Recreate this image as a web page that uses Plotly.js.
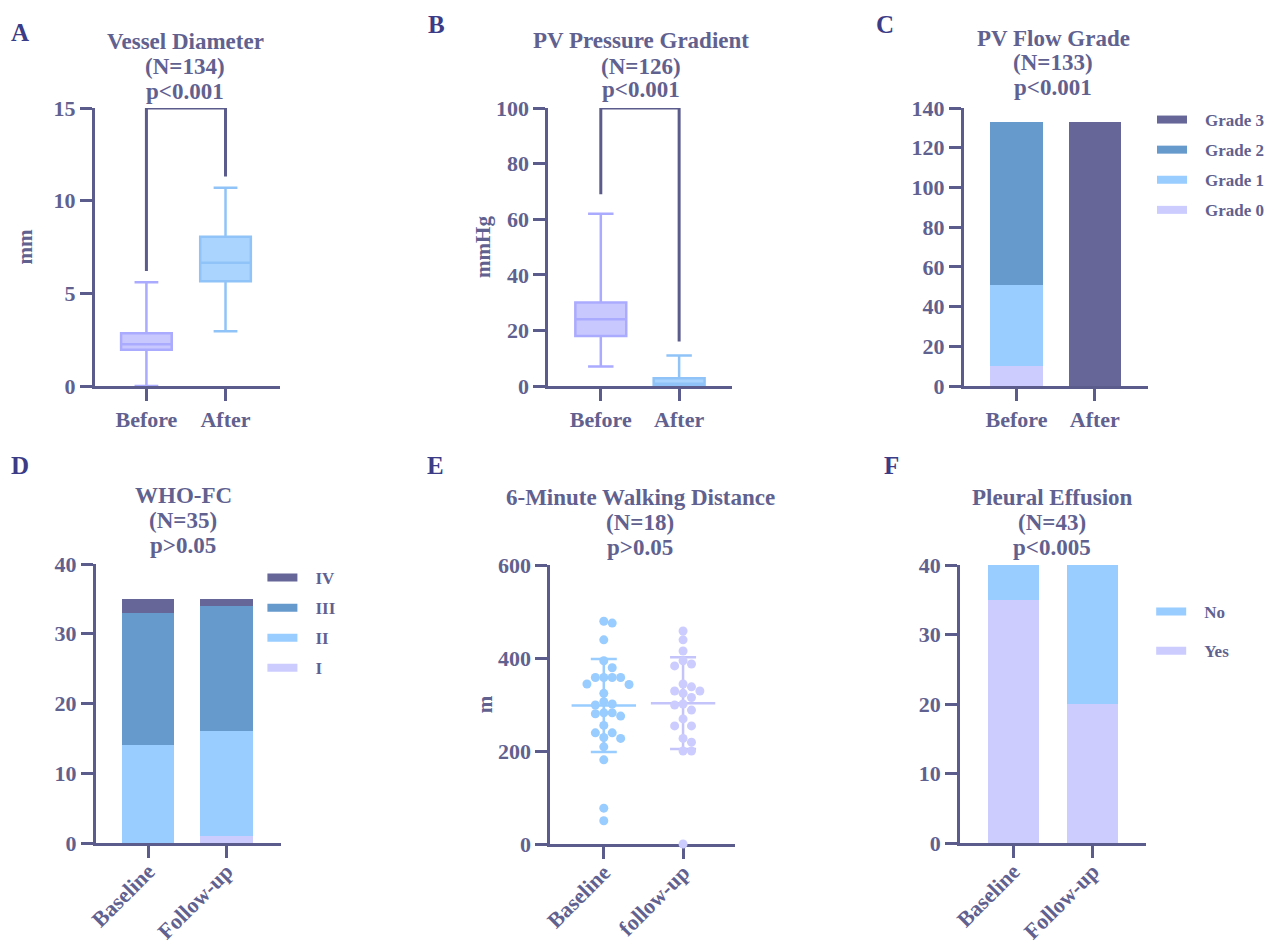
<!DOCTYPE html>
<html>
<head>
<meta charset="utf-8">
<script src="https://cdn.plot.ly/plotly-3.0.1.min.js"></script>
<style>html,body{margin:0;padding:0;background:#fff;}#chart{width:1266px;height:944px;}</style>
</head>
<body>
<div id="chart"></div>
<script>
// ---------------- DATA ----------------
const prePost = ['Before', 'After'];
// A: Vessel Diameter (mm) box statistics
const vdQ1 = [1.95, 5.65];
const vdMedian = [2.25, 6.65];
const vdQ3 = [2.85, 8.05];
const vdLow = [0, 2.95];
const vdHigh = [5.6, 10.7];
const vdBracketEnds = [6.2, 11.3];
const vdMax = 15;
// B: PV Pressure Gradient (mmHg) box statistics
const pgQ1 = [18, 0];
const pgMedian = [24, 0.8];
const pgQ3 = [30, 2.8];
const pgLow = [7, 0];
const pgHigh = [62, 11];
const pgBracketEnds = [69, 16];
const pgMax = 100;
// C: PV Flow Grade (counts)
const flowGrades = ['Grade 0', 'Grade 1', 'Grade 2', 'Grade 3'];
const flowBefore = [10, 41, 82, 0];
const flowAfter = [0, 0, 0, 133];
// D: WHO-FC (counts)
const timePoints = ['Baseline', 'Follow-up'];
const whoClasses = ['I', 'II', 'III', 'IV'];
const whoBaseline = [0, 14, 19, 2];
const whoFollowup = [1, 15, 18, 1];
// E: 6-minute walking distance (m)
const walkGroups = ['Baseline', 'follow-up'];
const walkBaseline = [475, 479, 439, 394, 379, 358, 358, 358, 358, 343, 344, 324, 306, 299, 301,
  282, 275, 280, 282, 255, 239, 239, 227, 229, 209, 181, 77, 50];
const walkFollowup = [458, 439, 415, 394, 383, 387, 344, 338, 329, 329, 324, 315, 301, 299, 288,
  269, 254, 254, 227, 219, 200, 200, 0];
// F: Pleural effusion (counts)
const effusionCats = ['Yes', 'No'];
const effusionBaseline = [35, 5];
const effusionFollowup = [20, 20];

// ---------------- STYLE ----------------
const W = 1266, H = 944;
const FONT = 'Liberation Serif, DejaVu Serif, serif';
const TXT = '#61618f';
const AX = '#5b5b8c';
const LETTER = '#3c3c86';
const C0 = '#ccccff', C1 = '#99ccff', C2 = '#6699cc', C3 = '#666699';
const gradeColors = [C0, C1, C2, C3];
const px = x => x / W;
const py = y => 1 - y / H;

function axisX(n, dom, range, extra) {
  return Object.assign({
    anchor: 'y' + n, domain: [px(dom[0]), px(dom[1])], range: range, showgrid: false, zeroline: false,
    showline: true, linecolor: AX, linewidth: 3, ticks: 'outside', ticklen: 12, tickwidth: 3,
    tickcolor: AX, tickfont: {family: FONT, size: 22, color: TXT, weight: 700},
    fixedrange: true
  }, extra || {});
}
function axisY(n, dom, range, dtick, extra) {
  return Object.assign({
    anchor: 'x' + n, domain: [py(dom[1]), py(dom[0])], range: range, dtick: dtick, showgrid: false, zeroline: false,
    showline: true, linecolor: AX, linewidth: 3, ticks: 'outside', ticklen: 12, tickwidth: 3,
    tickcolor: AX, tickfont: {family: FONT, size: 22, color: TXT, weight: 700},
    fixedrange: true
  }, extra || {});
}
function ytitle(t, standoff) {
  return {text: t, standoff: standoff, font: {family: FONT, size: 21, color: TXT, weight: 700}};
}

const traces = [];

// A boxes
const boxLine = ['#aaaaff', '#90c4f8'];
const boxFill = ['#c8c8ff', '#aad3fd'];
prePost.forEach((g, i) => {
  traces.push({type: 'box', xaxis: 'x', yaxis: 'y', x: [g], q1: [vdQ1[i]], median: [vdMedian[i]],
    q3: [vdQ3[i]], lowerfence: [vdLow[i]], upperfence: [vdHigh[i]], boxpoints: false,
    width: 0.64, whiskerwidth: 0.47, line: {color: boxLine[i], width: 2.5}, fillcolor: boxFill[i],
    showlegend: false, name: g});
});
traces.push({type: 'scatter', mode: 'lines', xaxis: 'x', yaxis: 'y', cliponaxis: false,
  x: [prePost[0], prePost[0], prePost[1], prePost[1]],
  y: [vdBracketEnds[0], vdMax, vdMax, vdBracketEnds[1]],
  line: {color: AX, width: 3}, showlegend: false, hoverinfo: 'skip'});

// B boxes
prePost.forEach((g, i) => {
  traces.push({type: 'box', xaxis: 'x2', yaxis: 'y2', x: [g], q1: [pgQ1[i]], median: [pgMedian[i]],
    q3: [pgQ3[i]], lowerfence: [pgLow[i]], upperfence: [pgHigh[i]], boxpoints: false,
    width: 0.65, whiskerwidth: 0.5, line: {color: boxLine[i], width: 2.5}, fillcolor: boxFill[i],
    showlegend: false, name: g});
});
traces.push({type: 'scatter', mode: 'lines', xaxis: 'x2', yaxis: 'y2', cliponaxis: false,
  x: [prePost[0], prePost[0], prePost[1], prePost[1]],
  y: [pgBracketEnds[0], pgMax, pgMax, pgBracketEnds[1]],
  line: {color: AX, width: 3}, showlegend: false, hoverinfo: 'skip'});

// C stacked bars
flowGrades.forEach((g, i) => {
  traces.push({type: 'bar', xaxis: 'x3', yaxis: 'y3', x: prePost, y: [flowBefore[i], flowAfter[i]],
    name: g, marker: {color: gradeColors[i], line: {width: 0}}, width: 0.67,
    legend: 'legend', legendgroup: 'c' + i, legendrank: 100 - i});
});

// D stacked bars
whoClasses.forEach((g, i) => {
  traces.push({type: 'bar', xaxis: 'x4', yaxis: 'y4', x: timePoints, y: [whoBaseline[i], whoFollowup[i]],
    name: g, marker: {color: gradeColors[i], line: {width: 0}}, width: 0.67,
    legend: 'legend2', legendgroup: 'd' + i, legendrank: 100 - i});
});

// E scatter dot plot with mean +/- SD
const E_PX_PER_X = 80, E_PX_PER_Y = 279 / 600, DOT = 9, ROW_H = 8, COL_W = 8.5;
function swarm(values, center) {
  const placed = [];
  const xs = new Array(values.length);
  const order = values.map((v, i) => i).sort((a, b) => values[b] - values[a]);
  for (const i of order) {
    const yp = values[i] * E_PX_PER_Y;
    let best = 0;
    for (let k = 0; k < 60; k++) {
      const off = (k % 2 === 1 ? 1 : -1) * Math.ceil(k / 2) * (COL_W / 2) * (k === 0 ? 0 : 1);
      const ok = placed.every(p => !(Math.abs(p.x - off) < COL_W - 0.01 && Math.abs(p.y - yp) < ROW_H));
      if (ok) { best = off; break; }
    }
    placed.push({x: best, y: yp});
    xs[i] = center + best / E_PX_PER_X;
  }
  return xs;
}
function mean(a) { return a.reduce((s, v) => s + v, 0) / a.length; }
function sd(a) { const m = mean(a); return Math.sqrt(a.reduce((s, v) => s + (v - m) ** 2, 0) / (a.length - 1)); }
const walkSets = [walkBaseline, walkFollowup];
const walkColors = ['#99ccff', '#ccccff'];
const walkLineColors = ['#99ccff', '#c4c4fb'];
walkSets.forEach((vals, i) => {
  traces.push({type: 'scatter', mode: 'markers', xaxis: 'x5', yaxis: 'y5', x: [i], y: [mean(vals)],
    marker: {symbol: 'line-ew', size: 46, line: {width: 2.5, color: walkLineColors[i]}},
    error_y: {type: 'data', array: [sd(vals)], visible: true, width: 13, thickness: 2.5, color: walkLineColors[i]},
    showlegend: false, hoverinfo: 'skip'});
});
walkSets.forEach((vals, i) => {
  traces.push({type: 'scatter', mode: 'markers', xaxis: 'x5', yaxis: 'y5', cliponaxis: false,
    x: swarm(vals, i), y: vals, name: walkGroups[i],
    marker: {size: DOT, color: walkColors[i]}, showlegend: false});
});

// F stacked bars
const effColors = [C0, C1];
effusionCats.forEach((g, i) => {
  traces.push({type: 'bar', xaxis: 'x6', yaxis: 'y6', x: timePoints, y: [effusionBaseline[i], effusionFollowup[i]],
    name: g, marker: {color: effColors[i], line: {width: 0}}, width: 0.65,
    legend: 'legend3', legendgroup: 'f' + i, legendrank: 100 - i});
});

// ---------------- ANNOTATIONS ----------------
const ann = [];
function titleBlock(xc, ys, lines) {
  lines.forEach((t, i) => ann.push({xref: 'paper', yref: 'paper', x: px(xc), y: py(ys[i]),
    xanchor: 'center', yanchor: 'middle', showarrow: false, text: t,
    font: {family: FONT, size: 23, color: TXT, weight: 700}}));
}
titleBlock(187, [42, 67, 92], ['Vessel Diameter', '(N=134)', 'p&lt;0.001']);
titleBlock(648, [40, 66, 90], ['PV Pressure Gradient', '(N=126)', 'p&lt;0.001']);
titleBlock(1064, [38, 63, 88], ['PV Flow Grade', '(N=133)', 'p&lt;0.001']);
titleBlock(185, [495, 520, 545], ['WHO-FC', '(N=35)', 'p&gt;0.05']);
titleBlock(647, [497, 522, 547], ['6-Minute Walking Distance', '(N=18)', 'p&gt;0.05']);
titleBlock(1063, [497, 522, 547], ['Pleural Effusion', '(N=43)', 'p&lt;0.005']);
[['A', 20, 33], ['B', 441, 24], ['C', 894, 24], ['D', 20, 465], ['E', 440, 465], ['F', 901, 465]]
  .forEach(([t, x, y]) => ann.push({xref: 'paper', yref: 'paper', x: px(x), y: py(y), xanchor: 'center',
    yanchor: 'middle', showarrow: false, text: t, font: {family: FONT, size: 25, color: LETTER, weight: 700}}));

function legendCfg(left, top, gap) {
  return {x: px(left), y: py(top), xanchor: 'left', yanchor: 'top', bgcolor: 'rgba(0,0,0,0)',
    itemwidth: 56, traceorder: 'grouped', tracegroupgap: gap, itemclick: false, itemdoubleclick: false,
    font: {family: FONT, size: 17, color: TXT, weight: 700}};
}

const rotX = {tickangle: -45, ticklabelstandoff: -8};
const layout = {
  width: W, height: H, margin: {l: 0, r: 0, t: 0, b: 0}, paper_bgcolor: '#fff', plot_bgcolor: '#fff',
  barmode: 'stack', boxmode: 'overlay', hovermode: false, showlegend: true,
  font: {family: FONT, color: TXT},
  xaxis: axisX('', [96, 283], [-0.65, 1.69], {type: 'category'}),
  yaxis: axisY('', [108, 386], [0, 15], 5, {title: ytitle('mm', 16)}),
  xaxis2: axisX(2, [554, 740], [-0.67, 1.68], {type: 'category'}),
  yaxis2: axisY(2, [108, 386], [0, 100], 20, {title: ytitle('mmHg', 0)}),
  xaxis3: axisX(3, [974, 1160], [-0.67, 1.68], {type: 'category'}),
  yaxis3: axisY(3, [108, 386], [0, 140], 20),
  xaxis4: axisX(4, [97, 284], [-0.67, 1.70], Object.assign({type: 'category'}, rotX)),
  yaxis4: axisY(4, [564, 843], [0, 40], 10),
  xaxis5: axisX(5, [556, 743], [-0.675, 1.66], Object.assign({type: 'linear', tickvals: [0, 1],
    ticktext: walkGroups, layer: 'below traces'}, rotX)),
  yaxis5: axisY(5, [565, 844], [0, 600], 200, {title: ytitle('m', 0)}),
  xaxis6: axisX(6, [970, 1158], [-0.675, 1.675], Object.assign({type: 'category'}, rotX)),
  yaxis6: axisY(6, [565, 843], [0, 40], 10),
  legend: legendCfg(1147, 102, 5),
  legend2: legendCfg(252, 560, 5),
  legend3: legendCfg(1150, 594, 14),
  annotations: ann
};

Plotly.newPlot('chart', traces, layout, {displayModeBar: false, staticPlot: true}).then(() => {
  document.querySelectorAll('g.legendpoints path').forEach(p => {
    const d = p.getAttribute('d') || '';
    if (d.indexOf('M6,6H-6V-6H6Z') === 0) p.setAttribute('d', 'M15,4H-15V-4H15Z');
  });
  // nudge the first (panel C) legend, which Plotly keeps inside the paper edge
  const lg = document.querySelector('g.infolayer > g.legend');
  if (lg) {
    const t = lg.getAttribute('transform') || '';
    const m = t.match(/translate\(\s*([-\d.]+)[ ,]+([-\d.]+)\s*\)/);
    if (m) lg.setAttribute('transform', 'translate(' + (parseFloat(m[1]) + 4) + ',' + m[2] + ')');
  }
});
</script>
</body>
</html>
